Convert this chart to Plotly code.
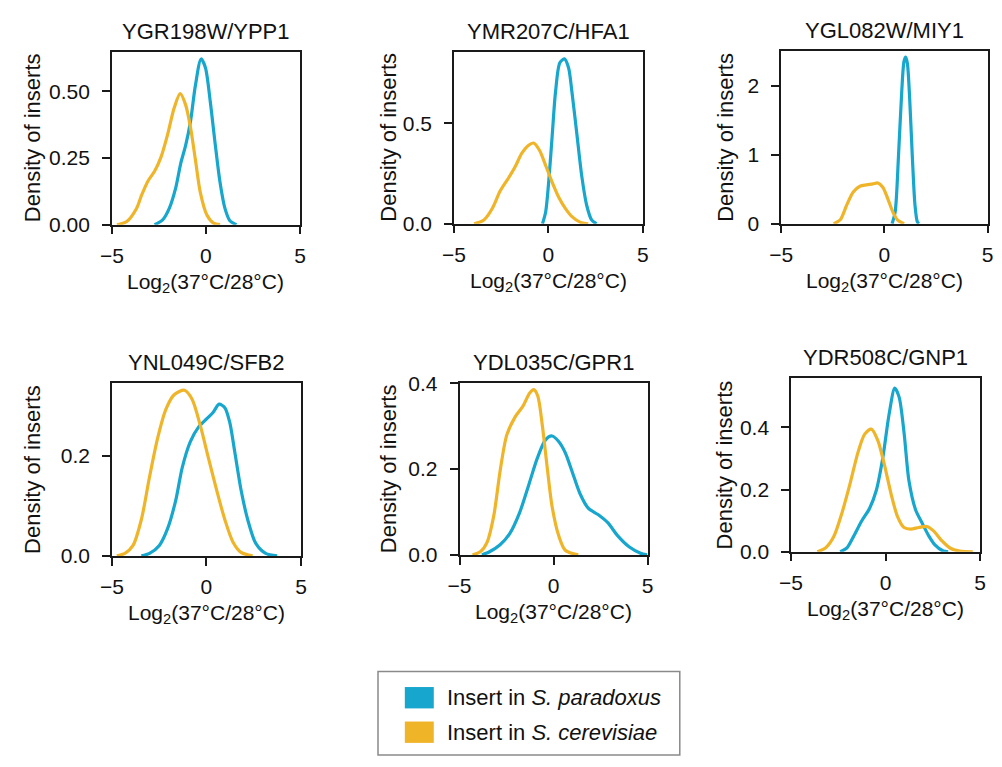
import plotly.graph_objects as go

W, H = 1002, 767
FONT = "Liberation Sans, Arial, sans-serif"
BLUE = "#17A6CE"
ORANGE = "#F0B429"

titles = ["YGR198W/YPP1", "YMR207C/HFA1", "YGL082W/MIY1",
          "YNL049C/SFB2", "YDL035C/GPR1", "YDR508C/GNP1"]
series_names = ["Insert in <i>S. paradoxus</i>", "Insert in <i>S. cerevisiae</i>"]

# ---- density curves (x = log2 ratio, y = density) ----
ypp1_par_x = [-2.73, -2.30, -1.95, -1.60, -1.34, -1.08, -0.82, -0.56, -0.26, -0.03, 0.23, 0.49, 0.75, 1.01, 1.27, 1.62]
ypp1_par_y = [0.0, 0.018, 0.061, 0.14, 0.23, 0.297, 0.388, 0.522, 0.621, 0.589, 0.461, 0.303, 0.158, 0.061, 0.015, 0.0]
ypp1_cer_x = [-4.73, -4.21, -3.69, -3.43, -3.08, -2.73, -2.38, -2.03, -1.69, -1.37, -1.08, -0.82, -0.56, -0.30, 0.05, 0.40, 0.75]
ypp1_cer_y = [0.0, 0.012, 0.061, 0.109, 0.164, 0.20, 0.255, 0.34, 0.437, 0.491, 0.449, 0.364, 0.243, 0.121, 0.036, 0.006, 0.0]

hfa1_par_x = [-0.31, -0.14, 0.03, 0.21, 0.38, 0.61, 0.85, 1.07, 1.25, 1.51, 1.77, 2.03, 2.29, 2.55]
hfa1_par_y = [0.0, 0.06, 0.221, 0.447, 0.656, 0.802, 0.821, 0.777, 0.656, 0.447, 0.237, 0.092, 0.019, 0.0]
hfa1_cer_x = [-3.93, -3.41, -2.97, -2.54, -2.10, -1.75, -1.41, -1.06, -0.78, -0.47, -0.12, 0.21, 0.55, 0.90, 1.25, 1.68, 2.11]
hfa1_cer_y = [0.0, 0.019, 0.076, 0.165, 0.229, 0.285, 0.35, 0.39, 0.402, 0.366, 0.285, 0.205, 0.132, 0.076, 0.035, 0.008, 0.0]

miy1_par_x = [0.37, 0.52, 0.68, 0.84, 0.95, 1.03, 1.11, 1.22, 1.35, 1.48, 1.59, 1.67]
miy1_par_y = [0.0, 0.175, 0.98, 1.93, 2.36, 2.42, 2.33, 1.83, 0.98, 0.27, 0.03, 0.0]
miy1_cer_x = [-2.46, -2.14, -1.83, -1.51, -1.19, -0.87, -0.56, -0.32, -0.08, 0.16, 0.40, 0.63, 0.95]
miy1_cer_y = [0.0, 0.057, 0.27, 0.46, 0.545, 0.564, 0.578, 0.592, 0.53, 0.365, 0.175, 0.057, 0.0]

sfb2_par_x = [-3.44, -3.01, -2.49, -2.06, -1.62, -1.28, -0.85, -0.42, 0.02, 0.36, 0.67, 0.97, 1.23, 1.49, 1.83, 2.18, 2.61, 3.13, 3.74]
sfb2_par_y = [0.0, 0.005, 0.021, 0.054, 0.112, 0.177, 0.229, 0.258, 0.275, 0.288, 0.304, 0.297, 0.268, 0.21, 0.132, 0.073, 0.025, 0.005, 0.0]
sfb2_cer_x = [-4.74, -4.31, -3.88, -3.44, -3.01, -2.58, -2.14, -1.71, -1.16, -0.76, -0.33, 0.10, 0.54, 0.97, 1.40, 1.83, 2.44]
sfb2_cer_y = [0.0, 0.005, 0.021, 0.073, 0.158, 0.236, 0.294, 0.323, 0.332, 0.314, 0.262, 0.197, 0.132, 0.073, 0.028, 0.007, 0.0]

gpr1_par_x = [-3.81, -3.38, -2.86, -2.34, -1.81, -1.30, -0.86, -0.43, -0.08, 0.27, 0.62, 0.97, 1.40, 1.84, 2.36, 2.88, 3.40, 4.01, 4.62, 4.97]
gpr1_par_y = [0.0, 0.008, 0.023, 0.049, 0.098, 0.166, 0.226, 0.268, 0.277, 0.264, 0.238, 0.196, 0.143, 0.109, 0.094, 0.075, 0.045, 0.019, 0.004, 0.0]
gpr1_cer_x = [-4.31, -3.88, -3.53, -3.18, -2.84, -2.49, -2.05, -1.62, -1.27, -1.05, -0.84, -0.60, -0.34, -0.08, 0.27, 0.62, 1.31]
gpr1_cer_y = [0.0, 0.008, 0.03, 0.091, 0.196, 0.279, 0.321, 0.347, 0.377, 0.385, 0.37, 0.302, 0.204, 0.113, 0.045, 0.011, 0.0]

gnp1_par_x = [-2.40, -2.05, -1.71, -1.27, -0.84, -0.49, -0.15, 0.20, 0.49, 0.72, 0.98, 1.24, 1.59, 1.93, 2.28, 2.63, 3.06, 3.32]
gnp1_par_y = [0.0, 0.012, 0.047, 0.098, 0.14, 0.197, 0.30, 0.446, 0.526, 0.497, 0.383, 0.228, 0.135, 0.093, 0.052, 0.021, 0.002, 0.0]
gnp1_cer_x = [-3.61, -3.18, -2.75, -2.31, -1.88, -1.45, -1.10, -0.75, -0.41, -0.06, 0.29, 0.63, 0.98, 1.33, 1.76, 2.19, 2.54, 2.97, 3.41, 3.93, 4.62]
gnp1_cer_y = [0.0, 0.012, 0.047, 0.124, 0.218, 0.321, 0.378, 0.394, 0.358, 0.28, 0.187, 0.114, 0.078, 0.073, 0.078, 0.081, 0.067, 0.036, 0.012, 0.002, 0.0]

x_ticks = [-5, 0, 5]
y_tick_vals = [[0, 0.25, 0.5], [0, 0.5], [0, 1, 2], [0, 0.2], [0, 0.2, 0.4], [0, 0.2, 0.4]]
y_tick_text = [["0.00", "0.25", "0.50"], ["0.0", "0.5"], ["0", "1", "2"], ["0.0", "0.2"], ["0.0", "0.2", "0.4"], ["0.0", "0.2", "0.4"]]
y_max = [0.649, 0.858, 2.515, 0.347, 0.401, 0.559]

panels = [
    (ypp1_par_x, ypp1_par_y, ypp1_cer_x, ypp1_cer_y),
    (hfa1_par_x, hfa1_par_y, hfa1_cer_x, hfa1_cer_y),
    (miy1_par_x, miy1_par_y, miy1_cer_x, miy1_cer_y),
    (sfb2_par_x, sfb2_par_y, sfb2_cer_x, sfb2_cer_y),
    (gpr1_par_x, gpr1_par_y, gpr1_cer_x, gpr1_cer_y),
    (gnp1_par_x, gnp1_par_y, gnp1_cer_x, gnp1_cer_y),
]

# ---- layout: subplot boxes in pixels (left, right, top, bottom) ----
boxes = [(101.7, 293.3, 41.7, 220), (450, 642.3, 41.7, 219), (783.3, 993.5, 40.7, 219),
         (101.7, 294.3, 382.7, 561), (455.7, 647.3, 382.7, 560), (793.3, 985.7, 377.7, 556.7)]
ytitle_x = [20.5, 383, 725.7, 21, 383.3, 725.7]


def px(x):
    return x / W


def py(y):
    return 1 - y / H


fig = go.Figure()
annotations = []
shapes = []
layout_axes = {}

for i, (pxs, pys, cxs, cys) in enumerate(panels):
    n = "" if i == 0 else str(i + 1)
    xa, ya = "x" + n, "y" + n
    fig.add_trace(go.Scatter(x=pxs, y=pys, xaxis=xa, yaxis=ya, mode="lines",
                             line=dict(color=BLUE, width=3.2, shape="spline", smoothing=0.8),
                             name="Insert in S. paradoxus", showlegend=False))
    fig.add_trace(go.Scatter(x=cxs, y=cys, xaxis=xa, yaxis=ya, mode="lines",
                             line=dict(color=ORANGE, width=3.2, shape="spline", smoothing=0.8),
                             name="Insert in S. cerevisiae", showlegend=False))
    l, r, t, b = boxes[i]
    common = dict(showline=True, linecolor="#1a1a1a", linewidth=1.5, mirror=True,
                  ticks="outside", ticklen=8, tickwidth=1.5, tickcolor="#1a1a1a",
                  showgrid=False, zeroline=False, layer="below traces",
                  tickfont=dict(family=FONT, size=21, color="#111"))
    layout_axes["xaxis" + n] = dict(common, domain=[px(l), px(r)], anchor=ya, range=[-5, 5],
                                    tickvals=x_ticks, ticklabelstandoff=3)
    layout_axes["yaxis" + n] = dict(common, domain=[py(b), py(t)], anchor=xa, range=[0, y_max[i]],
                                    tickvals=y_tick_vals[i], ticktext=y_tick_text[i], ticklabelstandoff=8)
    cx = (l + r) / 2
    annotations.append(dict(text=titles[i], x=px(cx), y=py(t - 21), xref="paper", yref="paper",
                            xanchor="center", yanchor="middle", showarrow=False,
                            font=dict(family=FONT, size=22, color="#111")))
    annotations.append(dict(text="Log<sub>2</sub>(37°C/28°C)", x=px(cx), y=py(b + 60), xref="paper",
                            yref="paper", xanchor="center", yanchor="middle", showarrow=False,
                            font=dict(family=FONT, size=21, color="#111")))
    annotations.append(dict(text="Density of inserts", x=px(ytitle_x[i]), y=py((t + b) / 2),
                            xref="paper", yref="paper", xanchor="center", yanchor="middle",
                            textangle=-90, showarrow=False,
                            font=dict(family=FONT, size=22, color="#111")))

# ---- legend drawn as a framed box ----
shapes.append(dict(type="rect", xref="paper", yref="paper", x0=px(372.7), x1=px(680),
                   y0=py(766), y1=py(680), line=dict(color="#8a8a8a", width=1.5), fillcolor="white"))
legend_colors = [BLUE, ORANGE]
legend_rows = [707, 742.5]
for c, yc, name in zip(legend_colors, legend_rows, series_names):
    shapes.append(dict(type="rect", xref="paper", yref="paper", x0=px(400), x1=px(429.5),
                       y0=py(yc + 11), y1=py(yc - 11), line=dict(width=0), fillcolor=c))
    annotations.append(dict(text=name, x=px(440.5), y=py(yc), xref="paper", yref="paper",
                            xanchor="left", yanchor="middle", showarrow=False,
                            font=dict(family=FONT, size=22, color="#111")))

fig.update_layout(width=W, height=H, margin=dict(l=0, r=0, t=0, b=0),
                  paper_bgcolor="white", plot_bgcolor="white",
                  annotations=annotations, shapes=shapes, showlegend=False, **layout_axes)

fig.write_html("out.html")
